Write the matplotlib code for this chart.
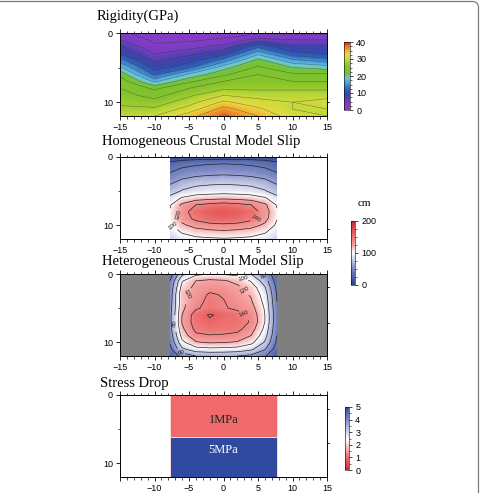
import numpy as np
import matplotlib
matplotlib.use("Agg")
import matplotlib.pyplot as plt
from matplotlib.colors import LinearSegmentedColormap
from matplotlib.patches import FancyBboxPatch
from matplotlib.ticker import MultipleLocator

# ---- data ----
depth = [0, 1, 2, 3, 4, 5, 6, 7, 8, 9, 10, 11, 12]

# rigidity (GPa), columns at these along-strike positions (km)
rig_x = [-15, -10, -5, 0, 5, 10, 15]
rig = np.array([
    [3, 1, 1, 1, 2, 2, 2],
    [5, 2, 2, 3, 6, 5, 5],
    [8, 3, 4, 6, 12, 8, 8],
    [10, 5, 7, 9, 17, 11, 10],
    [14, 7, 9, 14, 21, 16, 14],
    [18, 9, 12, 19, 23, 20, 19],
    [22, 12, 18, 22, 25, 23, 23],
    [24, 17, 22, 25, 26, 25, 25],
    [25, 22, 25, 27, 27, 27, 27],
    [26, 24, 27, 30, 29, 29, 29],
    [27, 26, 29, 33, 31, 30, 31],
    [28, 28, 31, 36, 33, 30, 30],
    [29, 30, 34, 38, 35, 31, 30],
])

# slip (cm), homogeneous crustal model
slip_x = [-7.75, -6, -4, -2, 0, 2, 4, 6, 7.75]
slip_homo = np.array([
    [6, 8, 9, 10, 10, 10, 9, 8, 6],
    [26, 33, 37, 39, 40, 39, 37, 33, 26],
    [37, 45, 49, 51, 52, 51, 49, 45, 37],
    [48, 57, 62, 64, 65, 64, 62, 57, 48],
    [60, 71, 77, 79, 80, 79, 77, 71, 60],
    [70, 82, 88, 90, 91, 90, 88, 82, 70],
    [86, 102, 110, 113, 115, 113, 110, 102, 86],
    [98, 124, 140, 146, 150, 146, 140, 124, 98],
    [102, 130, 152, 162, 166, 162, 152, 130, 102],
    [101, 127, 146, 155, 158, 155, 146, 127, 101],
    [96, 116, 127, 133, 135, 133, 127, 116, 96],
    [88, 102, 110, 113, 115, 113, 110, 102, 88],
    [80, 90, 95, 97, 98, 97, 95, 90, 80],
])

# slip (cm), heterogeneous crustal model
slip_hete = np.array([
    [30, 75, 95, 100, 98, 95, 80, 55, 25],
    [40, 98, 120, 124, 122, 115, 98, 70, 30],
    [45, 108, 126, 132, 130, 124, 112, 82, 35],
    [48, 116, 128, 143, 138, 128, 118, 90, 38],
    [50, 114, 132, 146, 141, 131, 122, 94, 40],
    [52, 116, 137, 147, 142, 136, 128, 98, 42],
    [54, 120, 150, 162, 155, 148, 135, 100, 44],
    [54, 122, 150, 157, 152, 150, 138, 100, 44],
    [52, 116, 146, 150, 148, 146, 130, 95, 42],
    [48, 108, 136, 139, 138, 135, 120, 88, 40],
    [42, 95, 118, 122, 121, 118, 106, 78, 36],
    [34, 76, 92, 95, 94, 92, 84, 62, 30],
    [22, 48, 60, 62, 62, 60, 55, 42, 20],
])

# stress drop (MPa)
sd_x = [-7.75, 7.75]
sd_depth = [0, 6.1, 12]
sd_val = np.array([[1], [5]])
sd_text = ["1MPa", "5MPa"]

titles = ["Rigidity(GPa)", "Homogeneous Crustal Model Slip",
          "Heterogeneous Crustal Model Slip", "Stress Drop"]

# ---- styling ----
sans = "Liberation Sans"
serif = "Liberation Serif"
plt.rcParams["font.family"] = sans

rig_cmap = LinearSegmentedColormap.from_list("rig", [
    (0.0, "#8a3cc6"), (0.12, "#7a3cc2"), (0.22, "#3a44a8"), (0.3, "#2f5cb8"),
    (0.4, "#4aa0d8"), (0.47, "#6cc8e0"), (0.53, "#74c236"), (0.65, "#86c42a"),
    (0.75, "#c8da3a"), (0.82, "#e8d840"), (0.88, "#f2b030"), (0.95, "#ea6a22"),
    (1.0, "#cf3022")])
slip_cmap = LinearSegmentedColormap.from_list("slip", [
    (0.0, "#26408c"), (0.25, "#7c88c4"), (0.5, "#ffffff"), (0.62, "#f5a2a2"),
    (0.78, "#ec6868"), (1.0, "#c8262c")])
sd_cmap = LinearSegmentedColormap.from_list("sd", [
    (0.0, "#d42a2a"), (0.2, "#f06a6c"), (0.48, "#ffffff"), (1.0, "#2f4a9e")])

W, H = 480, 493
fig = plt.figure(figsize=(W / 100, H / 100), dpi=100)


def rect(l, t, r, b):
    return [l / W, 1 - b / H, (r - l) / W, (b - t) / H]


def style_axis(ax, right_ticks, hide_m15=False):
    ax.set_xlim(-15, 15)
    ax.set_ylim(12, 0)
    ax.set_xticks([-15, -10, -5, 0, 5, 10, 15])
    if hide_m15:
        ax.set_xticklabels(["", "\u221210", "\u22125", "0", "5", "10", "15"])
    ax.xaxis.set_minor_locator(MultipleLocator(1))
    ax.set_yticks([0, 10])
    ax.yaxis.set_minor_locator(MultipleLocator(5))
    ax.tick_params(axis="both", which="major", labelsize=6.5, length=3,
                   width=0.6, direction="out", pad=2, top=True)
    ax.tick_params(axis="both", which="minor", length=1.8, width=0.5,
                   direction="out", top=True)
    ax.tick_params(axis="y", which="both", right=False)
    for s in ax.spines.values():
        s.set_linewidth(0.7)
    for yv in right_ticks:
        ax.plot([1.0, 1.012], [yv, yv], color="k", lw=0.6,
                transform=ax.get_yaxis_transform(), clip_on=False)


def style_cbar(cb, ticks, minor):
    cb.set_ticks(ticks)
    cb.ax.yaxis.set_minor_locator(MultipleLocator(minor))
    cb.ax.tick_params(which="major", labelsize=6.5, length=2.5, width=0.5, pad=2)
    cb.ax.tick_params(which="minor", length=1.5, width=0.4)
    cb.outline.set_linewidth(0.4)


# panel 1: rigidity
ax1 = fig.add_axes(rect(120, 33, 327, 116))
cf = ax1.contourf(rig_x, depth, rig, levels=np.linspace(0, 40, 81), cmap=rig_cmap)
ax1.contour(rig_x, depth, rig, levels=np.arange(2.5, 40, 2.5), colors="#303030",
            linewidths=0.35, alpha=0.6)
style_axis(ax1, [10])
cax1 = fig.add_axes(rect(344, 42, 350, 110))
cb1 = fig.colorbar(cf, cax=cax1)
style_cbar(cb1, [0, 10, 20, 30, 40], 2.5)

# panel 2: homogeneous slip
ax2 = fig.add_axes(rect(120, 157, 327, 239))
cf2 = ax2.contourf(slip_x, depth, slip_homo, levels=np.linspace(0, 200, 101),
                   cmap=slip_cmap)
cs2 = ax2.contour(slip_x, depth, slip_homo, levels=[20, 40, 60, 80, 100, 120, 140],
                  colors="#222222", linewidths=0.5)
ax2.clabel(cs2, fmt="%d", fontsize=4.5, inline=True,
           manual=[(-7.6, 10.4), (-6.4, 8.4), (4.8, 9.4)])
style_axis(ax2, [10.5])
cax2 = fig.add_axes(rect(351, 221, 355, 285))
cb2 = fig.colorbar(cf2, cax=cax2)
style_cbar(cb2, [0, 100, 200], 25)
fig.text(364 / W, 1 - 204 / H, "cm", family=serif, fontsize=8, ha="center",
         va="center")

# panel 3: heterogeneous slip
ax3 = fig.add_axes(rect(120, 274, 327, 356))
ax3.set_facecolor("#7f7f7f")
ax3.contourf(slip_x, depth, slip_hete, levels=np.linspace(0, 200, 101),
             cmap=slip_cmap)
cs3 = ax3.contour(slip_x, depth, slip_hete,
                  levels=[20, 40, 60, 80, 100, 120, 140, 160],
                  colors="#222222", linewidths=0.5)
ax3.clabel(cs3, fmt="%d", fontsize=4.5, inline=True,
           manual=[(-5.7, 2.8), (-7.1, 7.3), (-6.1, 11.3), (5.9, 0.4),
                   (2.8, 0.9), (3.0, 2.4), (3.0, 5.8)])
style_axis(ax3, [1.9, 7.1])

# panel 4: stress drop
ax4 = fig.add_axes(rect(120, 395, 327, 477))
pm = ax4.pcolormesh(sd_x, sd_depth, sd_val, cmap=sd_cmap, vmin=0, vmax=5,
                    edgecolors="#f4dada", linewidth=0.6)
ax4.text(0, 3.6, sd_text[0], family=serif, fontsize=9, ha="center",
         va="center", color="#222222")
ax4.text(0, 8.0, sd_text[1], family=serif, fontsize=9, ha="center",
         va="center", color="white")
style_axis(ax4, [2.0, 7.0], hide_m15=True)
cax4 = fig.add_axes(rect(345, 407, 349, 470))
cb4 = fig.colorbar(pm, cax=cax4)
style_cbar(cb4, [0, 1, 2, 3, 4, 5], 0.5)

# titles
title_pos = [(97, 16), (102, 141), (102, 261), (100, 383)]
for (tx, ty), t in zip(title_pos, titles):
    fig.text(tx / W, 1 - ty / H, t, family=serif, fontsize=10.5,
             ha="left", va="center")

# rounded frame (only top and right edges fall inside the picture)
frame = FancyBboxPatch((-20, -20), 498.5, 511.5,
                       boxstyle="round,pad=0,rounding_size=6",
                       transform=None, fill=False, edgecolor="#7a7a7a",
                       linewidth=0.9)
fig.patches.append(frame)

fig.savefig("out.png", dpi=100)
